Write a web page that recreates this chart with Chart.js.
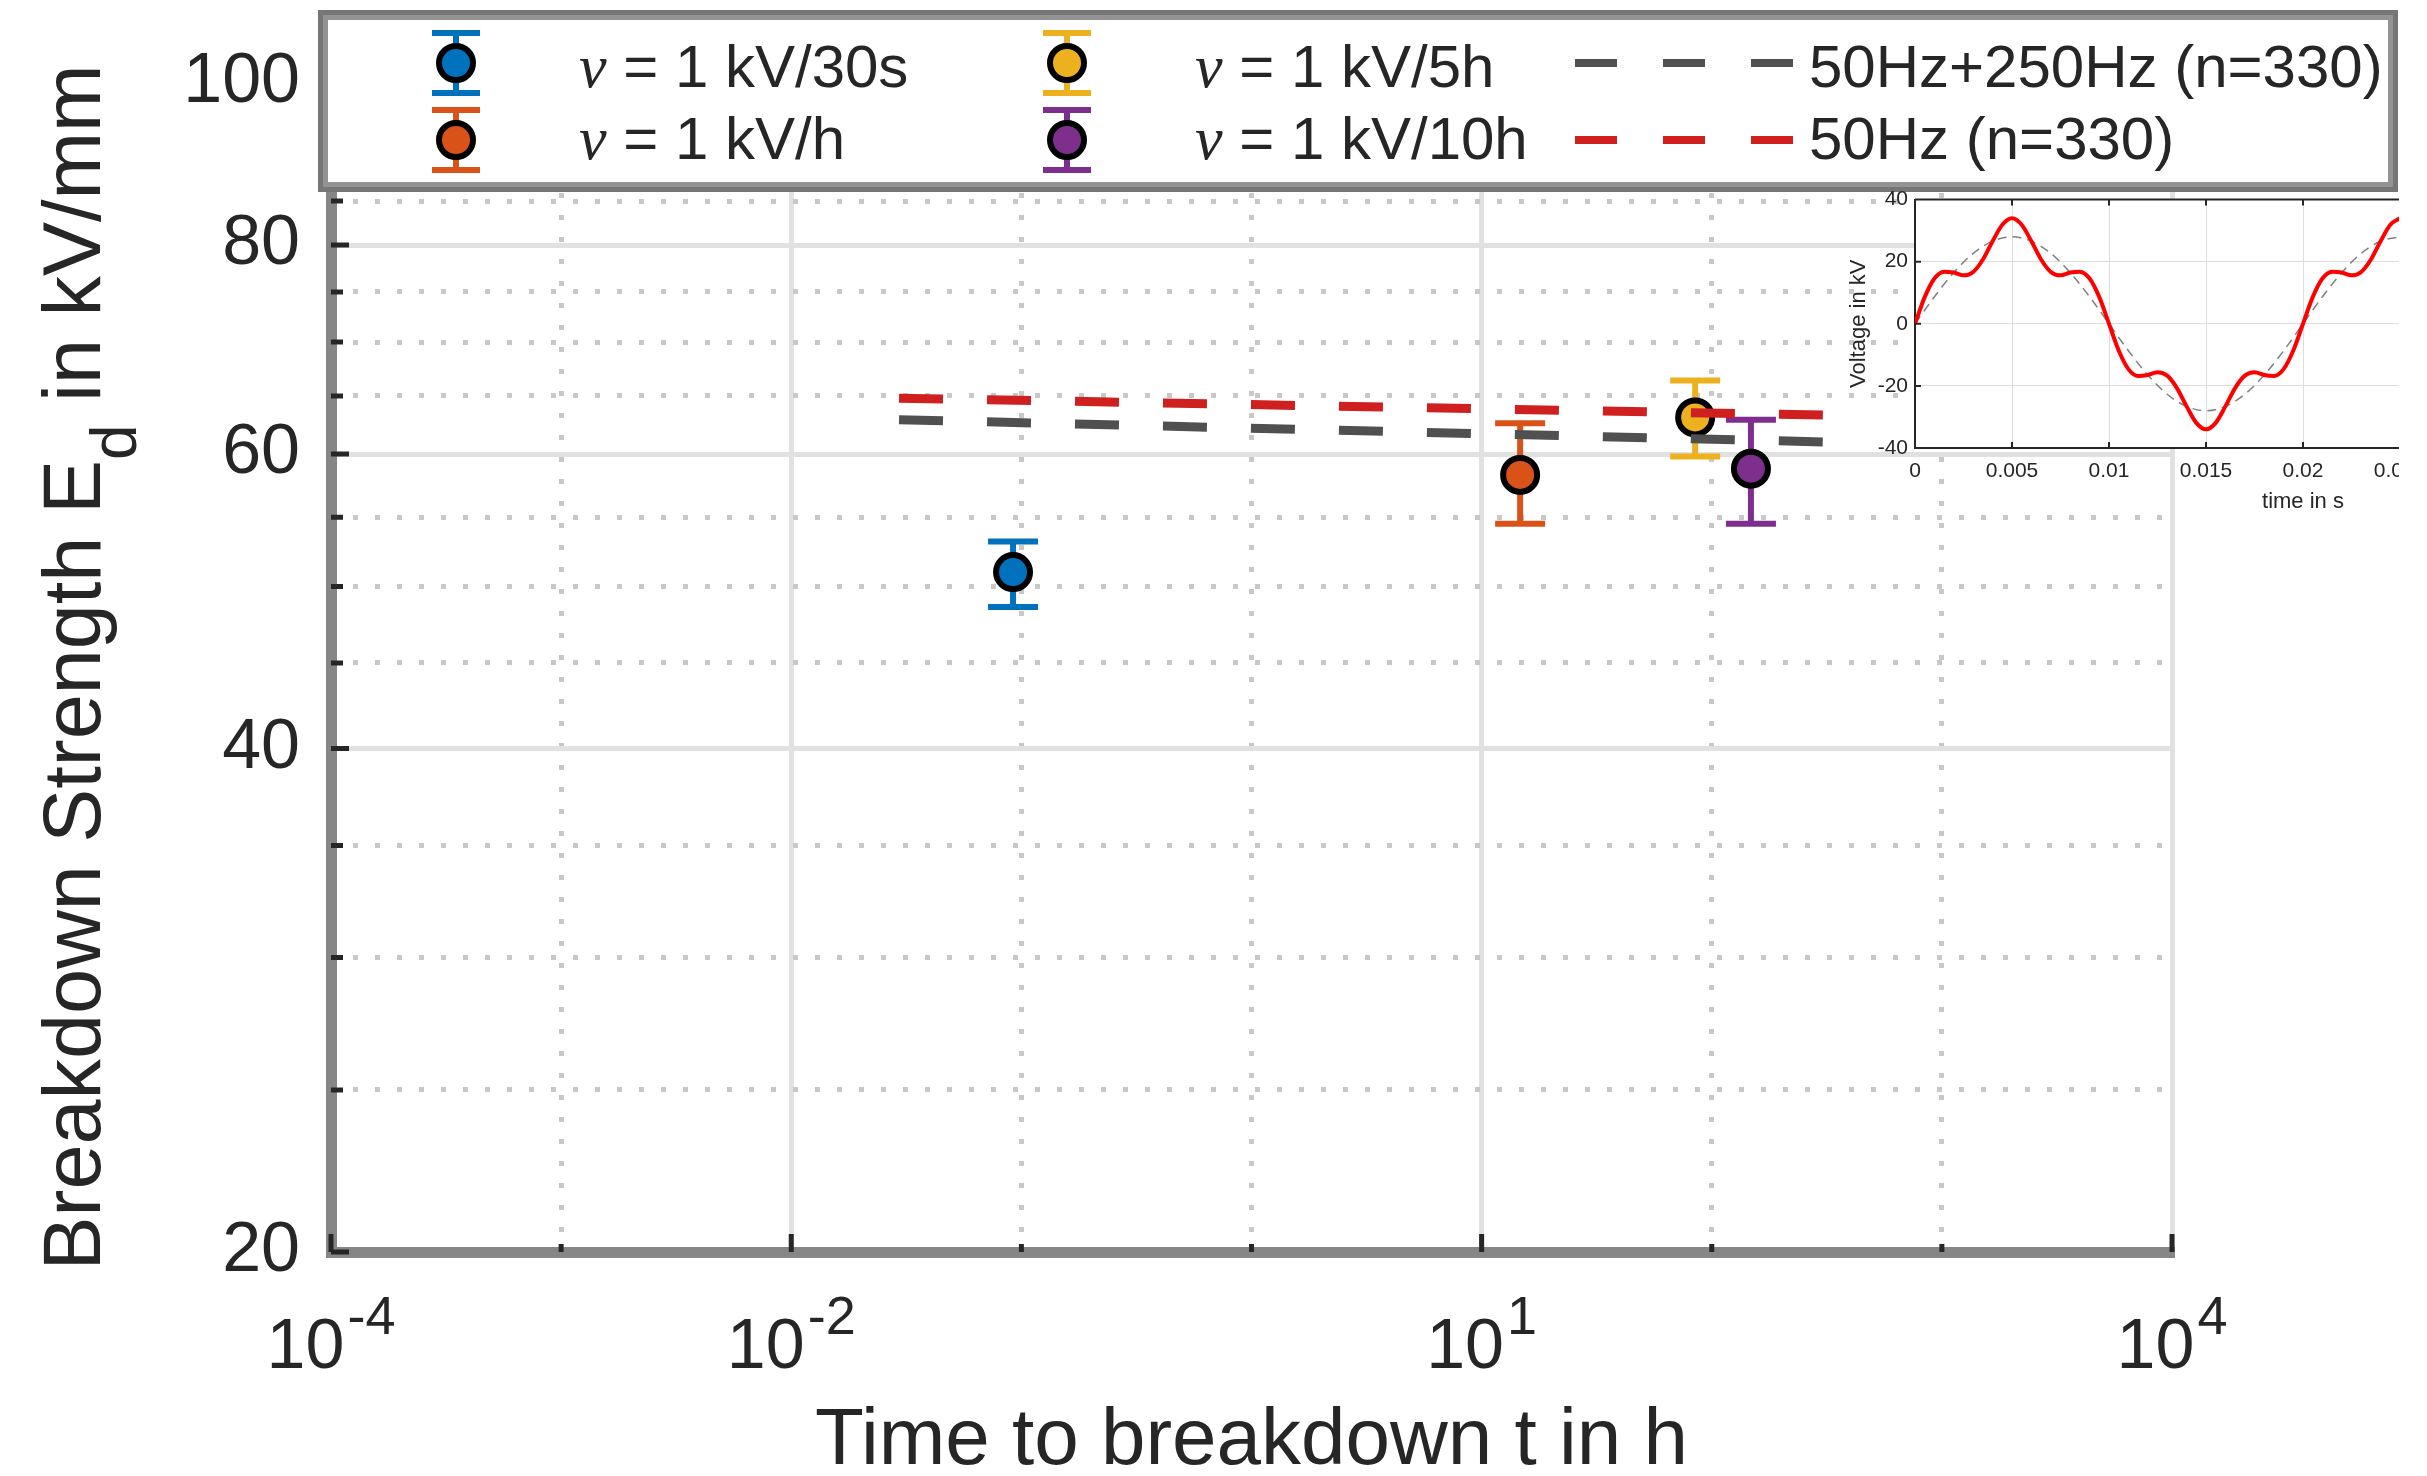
<!DOCTYPE html>
<html>
<head>
<meta charset="utf-8">
<script src="https://cdn.jsdelivr.net/npm/chart.js@4"></script>
<style>
  html, body { margin: 0; padding: 0; background: #fff; overflow: hidden; }
  #wrap { position: relative; width: 2427px; height: 1476px; }
  #main { position: absolute; left: 0; top: 0; }
  #insetBox { position: absolute; left: 1835px; top: 180px; width: 564px; height: 345px; overflow: hidden; }
  #inset { position: absolute; left: 0; top: 0; }
</style>
</head>
<body>
<div id="wrap">
  <canvas id="main" width="2427" height="1476"></canvas>
  <div id="insetBox"><canvas id="inset" width="900" height="345"></canvas></div>
</div>
<script>
// measured series (ramp rates)
const seriesLabels = ['ν = 1 kV/30s', 'ν = 1 kV/h', 'ν = 1 kV/5h', 'ν = 1 kV/10h'];
const seriesColors = ['#0072BD', '#D95319', '#EDB120', '#7E2F8E'];
const breakdownTime = [0.092, 14.7, 84.7, 148];
const breakdownStrength = [51.0, 58.3, 63.1, 58.8];
const strengthLow = [48.6, 54.5, 59.8, 54.5];
const strengthHigh = [53.2, 62.6, 66.4, 62.9];

// fitted lifetime lines
const fitLabels = ['50Hz+250Hz (n=330)', '50Hz (n=330)'];
const fitColors = ['#505050', '#D01F1F'];
const fitTime = [0.0294, 320];
const fit50250 = [62.9, 61.0];
const fit50 = [64.8, 63.3];

// axis ticks
const xMajorTicks = [1e-4, 1e-2, 1e1, 1e4];
const xTickExponents = ['-4', '-2', '1', '4'];
const xMinorTicks = [1e-3, 1e-1, 1, 1e2, 1e3];
const yMajorTicks = [20, 40, 60, 80, 100];
const yTickLabels = ['20', '40', '60', '80', '100'];
const yMinorTicks = [25, 30, 35, 45, 50, 55, 65, 70, 75, 85, 90, 95];

// inset waveform
const insetTime = [0, 0.0005, 0.001, 0.0015, 0.002, 0.0025, 0.003, 0.0035, 0.004, 0.0045, 0.005,
  0.0055, 0.006, 0.0065, 0.007, 0.0075, 0.008, 0.0085, 0.009, 0.0095, 0.01,
  0.0105, 0.011, 0.0115, 0.012, 0.0125, 0.013, 0.0135, 0.014, 0.0145, 0.015,
  0.0155, 0.016, 0.0165, 0.017, 0.0175, 0.018, 0.0185, 0.019, 0.0195, 0.02,
  0.0205, 0.021, 0.0215, 0.022, 0.0225, 0.023, 0.0235, 0.024, 0.0245, 0.025];
const insetVoltage = [0, 8.6, 14.6, 16.8, 16.5, 15.6, 16.7, 20.7, 26.6, 31.9, 34,
  31.9, 26.6, 20.7, 16.7, 15.6, 16.5, 16.8, 14.6, 8.6, 0,
  -8.6, -14.6, -16.8, -16.5, -15.6, -16.7, -20.7, -26.6, -31.9, -34,
  -31.9, -26.6, -20.7, -16.7, -15.6, -16.5, -16.8, -14.6, -8.6, 0,
  8.6, 14.6, 16.8, 16.5, 15.6, 16.7, 20.7, 26.6, 31.9, 34];
const insetFundTime = [0, 0.001, 0.002, 0.003, 0.004, 0.005, 0.006, 0.007, 0.008, 0.009, 0.01,
  0.011, 0.012, 0.013, 0.014, 0.015, 0.016, 0.017, 0.018, 0.019, 0.02,
  0.021, 0.022, 0.023, 0.024, 0.025];
const insetFundVoltage = [0, 8.7, 16.5, 22.7, 26.6, 28, 26.6, 22.7, 16.5, 8.7, 0,
  -8.7, -16.5, -22.7, -26.6, -28, -26.6, -22.7, -16.5, -8.7, 0,
  8.7, 16.5, 22.7, 26.6, 28];
const insetXTicks = [0, 0.005, 0.01, 0.015, 0.02, 0.025, 0.03, 0.035, 0.04];
const insetXTickLabels = ['0', '0.005', '0.01', '0.015', '0.02', '0.025', '0.03', '0.035', '0.04'];
const insetYTicks = [-40, -20, 0, 20, 40];

const FONT = "'Liberation Sans', Arial, Helvetica, sans-serif";
const INK = '#262626';
Chart.defaults.font.family = FONT;
Chart.defaults.color = INK;

const datasets = [];
[fit50250, fit50].forEach((vals, k) => {
  datasets.push({
    label: fitLabels[k],
    data: fitTime.map((t, j) => ({ x: t, y: vals[j] })),
    showLine: true,
    borderColor: fitColors[k],
    borderWidth: 9,
    borderDash: [44, 44],
    pointRadius: 0,
    order: 0
  });
});
seriesLabels.forEach((lab, i) => {
  datasets.push({
    label: lab + ' range',
    data: [{ x: breakdownTime[i], y: strengthLow[i] }, { x: breakdownTime[i], y: strengthHigh[i] }],
    showLine: true,
    borderColor: seriesColors[i],
    borderWidth: 6,
    pointStyle: 'line',
    pointRadius: 25,
    pointBorderWidth: 6,
    pointBorderColor: seriesColors[i],
    order: 2
  });
  datasets.push({
    label: lab,
    data: [{ x: breakdownTime[i], y: breakdownStrength[i] }],
    pointRadius: 17,
    pointBorderWidth: 6,
    pointBorderColor: '#000',
    pointBackgroundColor: seriesColors[i],
    order: 1
  });
});

function setTicks(vals) {
  return scale => { scale.ticks = vals.map(v => ({ value: v })); };
}

// y title with subscript, x tick labels with exponents, inward tick marks
const axisDecor = {
  id: 'axisDecor',
  afterDraw(chart) {
    const ctx = chart.ctx;
    const area = chart.chartArea;
    const xs = chart.scales.x, ys = chart.scales.y;
    ctx.save();
    ctx.fillStyle = INK;
    ctx.strokeStyle = INK;
    ctx.lineWidth = 5;
    ctx.beginPath();
    yMajorTicks.forEach(v => { const p = ys.getPixelForValue(v); ctx.moveTo(area.left, p); ctx.lineTo(area.left + 18, p); });
    yMinorTicks.forEach(v => { const p = ys.getPixelForValue(v); ctx.moveTo(area.left, p); ctx.lineTo(area.left + 12, p); });
    xMajorTicks.forEach(v => { const p = xs.getPixelForValue(v); ctx.moveTo(p, area.bottom); ctx.lineTo(p, area.bottom - 18); });
    xMinorTicks.forEach(v => { const p = xs.getPixelForValue(v); ctx.moveTo(p, area.bottom); ctx.lineTo(p, area.bottom - 8); });
    ctx.stroke();

    // x tick labels 10^n
    ctx.textBaseline = 'alphabetic';
    ctx.textAlign = 'left';
    xMajorTicks.forEach((v, i) => {
      const p = xs.getPixelForValue(v);
      ctx.font = '70px ' + FONT;
      const wb = ctx.measureText('10').width;
      ctx.font = '54px ' + FONT;
      const we = ctx.measureText(xTickExponents[i]).width;
      const x0 = p - (wb + we + 3) / 2;
      ctx.font = '70px ' + FONT;
      ctx.fillText('10', x0, area.bottom + 116);
      ctx.font = '54px ' + FONT;
      ctx.fillText(xTickExponents[i], x0 + wb + 3, area.bottom + 82);
    });

    // y title: Breakdown Strength E_d in kV/mm
    const partA = 'Breakdown Strength E', partSub = 'd', partB = ' in kV/mm';
    ctx.font = '81px ' + FONT;
    const wa = ctx.measureText(partA).width, wb2 = ctx.measureText(partB).width;
    ctx.font = '64px ' + FONT;
    const ws = ctx.measureText(partSub).width;
    const total = wa + ws + wb2;
    ctx.translate(100, (area.top + area.bottom) / 2);
    ctx.rotate(-Math.PI / 2);
    let x = -total / 2;
    ctx.font = '81px ' + FONT;
    ctx.fillText(partA, x, 0);
    x += wa;
    ctx.font = '64px ' + FONT;
    ctx.fillText(partSub, x, 36);
    x += ws;
    ctx.font = '81px ' + FONT;
    ctx.fillText(partB, x, 0);
    ctx.restore();
  }
};

// boxed legend across the top
const legendBox = {
  id: 'legendBox',
  afterDraw(chart) {
    const ctx = chart.ctx;
    ctx.save();
    ctx.fillStyle = '#fff';
    ctx.fillRect(318, 10, 2080, 182);
    ctx.lineWidth = 5;
    ctx.strokeStyle = '#767676';
    ctx.strokeRect(320.5, 12.5, 2075, 177);
    ctx.strokeStyle = '#939393';
    ctx.strokeRect(325.5, 17.5, 2065, 167);

    const rowMark = [63, 140];
    const rowText = [87, 159];
    const markX = [456, 456, 1067, 1067];
    const textX = [579, 579, 1195, 1195];
    const rowOf = [0, 1, 0, 1];
    seriesLabels.forEach((lab, i) => {
      const cx = markX[i], cy = rowMark[rowOf[i]];
      ctx.strokeStyle = seriesColors[i];
      ctx.lineWidth = 6;
      ctx.setLineDash([]);
      ctx.beginPath();
      ctx.moveTo(cx, cy - 30); ctx.lineTo(cx, cy + 30);
      ctx.moveTo(cx - 24, cy - 30); ctx.lineTo(cx + 24, cy - 30);
      ctx.moveTo(cx - 24, cy + 30); ctx.lineTo(cx + 24, cy + 30);
      ctx.stroke();
      ctx.beginPath();
      ctx.arc(cx, cy, 17, 0, Math.PI * 2);
      ctx.fillStyle = seriesColors[i];
      ctx.fill();
      ctx.strokeStyle = '#000';
      ctx.stroke();
      ctx.fillStyle = INK;
      ctx.textBaseline = 'alphabetic';
      ctx.textAlign = 'left';
      ctx.font = "italic 62px 'Liberation Serif', serif";
      ctx.fillText(lab[0], textX[i], rowText[rowOf[i]]);
      const wn = ctx.measureText(lab[0]).width;
      ctx.font = '60px ' + FONT;
      ctx.fillText(lab.slice(1), textX[i] + wn, rowText[rowOf[i]]);
    });
    fitLabels.forEach((lab, k) => {
      const cy = rowMark[k];
      ctx.strokeStyle = fitColors[k];
      ctx.lineWidth = 8;
      ctx.setLineDash([42, 46]);
      ctx.beginPath();
      ctx.moveTo(1575, cy); ctx.lineTo(1793, cy);
      ctx.stroke();
      ctx.setLineDash([]);
      ctx.fillStyle = INK;
      ctx.font = '60px ' + FONT;
      ctx.fillText(lab, 1809, rowText[k]);
    });
    ctx.restore();
  }
};

new Chart(document.getElementById('main'), {
  type: 'scatter',
  data: { datasets: datasets },
  options: {
    responsive: false,
    animation: false,
    events: [],
    devicePixelRatio: 1,
    layout: { padding: { top: 83, right: 255, left: 0, bottom: 0 } },
    plugins: { legend: { display: false }, tooltip: { enabled: false } },
    scales: {
      x: {
        type: 'logarithmic', position: 'bottom', min: 1e-4, max: 1e4,
        afterBuildTicks: setTicks(xMajorTicks),
        afterFit: s => { s.height = 224; },
        ticks: { display: false },
        grid: { color: '#e1e1e1', lineWidth: 5, drawTicks: false },
        border: { display: true, color: '#868686', width: 11 },
        title: {
          display: true, text: 'Time to breakdown t in h', color: INK,
          font: { family: FONT, size: 80, lineHeight: 0.85 }, padding: { top: 0, bottom: 0 }
        }
      },
      xMinor: {
        type: 'logarithmic', position: 'bottom', axis: 'x', min: 1e-4, max: 1e4,
        afterBuildTicks: setTicks(xMinorTicks),
        afterFit: s => { s.height = 0; },
        ticks: { display: false },
        grid: { color: '#c8c8c8', lineWidth: 5, drawTicks: false },
        border: { display: false, dash: [5, 17] }
      },
      y: {
        type: 'logarithmic', position: 'left', min: 20, max: 100,
        afterBuildTicks: setTicks(yMajorTicks),
        afterFit: s => { s.width = 331; },
        ticks: { padding: 31, color: INK, font: { size: 70 }, autoSkip: false, callback: (v, i) => yTickLabels[i] },
        grid: { color: '#e1e1e1', lineWidth: 5, drawTicks: false },
        border: { display: true, color: '#868686', width: 11 }
      },
      yMinor: {
        type: 'logarithmic', position: 'left', axis: 'y', min: 20, max: 100,
        afterBuildTicks: setTicks(yMinorTicks),
        afterFit: s => { s.width = 0; },
        ticks: { display: false },
        grid: { color: '#c8c8c8', lineWidth: 5, drawTicks: false },
        border: { display: false, dash: [5, 17] }
      }
    }
  },
  plugins: [axisDecor, legendBox]
});

// inset: voltage waveform
const insetFrame = {
  id: 'insetFrame',
  beforeDraw(chart) {
    const a = chart.chartArea, ctx = chart.ctx;
    ctx.save();
    ctx.fillStyle = '#fff';
    ctx.fillRect(a.left, a.top, a.right - a.left, a.bottom - a.top);
    ctx.restore();
  },
  afterDraw(chart) {
    const a = chart.chartArea, ctx = chart.ctx;
    const xs = chart.scales.x, ys = chart.scales.y;
    ctx.save();
    ctx.strokeStyle = INK;
    ctx.lineWidth = 2;
    ctx.beginPath();
    ctx.moveTo(a.left, a.top); ctx.lineTo(a.right, a.top);
    insetXTicks.forEach(v => {
      const p = xs.getPixelForValue(v);
      ctx.moveTo(p, a.top); ctx.lineTo(p, a.top + 6);
      ctx.moveTo(p, a.bottom); ctx.lineTo(p, a.bottom - 6);
    });
    insetYTicks.forEach(v => {
      const p = ys.getPixelForValue(v);
      ctx.moveTo(a.left, p); ctx.lineTo(a.left + 6, p);
    });
    ctx.stroke();
    ctx.restore();
  }
};

new Chart(document.getElementById('inset'), {
  type: 'scatter',
  data: {
    datasets: [
      {
        label: '50Hz+250Hz',
        data: insetTime.map((t, i) => ({ x: t, y: insetVoltage[i] })),
        showLine: true, borderColor: '#ff0000', borderWidth: 4, pointRadius: 0,
        cubicInterpolationMode: 'monotone', order: 0
      },
      {
        label: '50Hz',
        data: insetFundTime.map((t, i) => ({ x: t, y: insetFundVoltage[i] })),
        showLine: true, borderColor: '#808080', borderWidth: 1.5, borderDash: [9, 6], pointRadius: 0,
        cubicInterpolationMode: 'monotone', order: 1
      }
    ]
  },
  options: {
    responsive: false,
    animation: false,
    events: [],
    devicePixelRatio: 1,
    layout: { padding: { top: 14, right: 44, left: 0, bottom: 0 } },
    plugins: { legend: { display: false }, tooltip: { enabled: false } },
    scales: {
      x: {
        type: 'linear', min: 0, max: 0.04,
        afterBuildTicks: setTicks(insetXTicks),
        afterFit: s => { s.height = 77; },
        ticks: { padding: 11, color: INK, font: { size: 21 }, autoSkip: false, maxRotation: 0, callback: (v, i) => insetXTickLabels[i] },
        grid: { color: '#dedede', lineWidth: 1, drawTicks: false },
        border: { color: INK, width: 2 },
        title: { display: true, text: 'time in s', color: INK, font: { size: 22 }, padding: { top: 0, bottom: 10 } }
      },
      y: {
        type: 'linear', min: -40, max: 40,
        afterBuildTicks: setTicks(insetYTicks),
        afterFit: s => { s.width = 80; },
        ticks: { padding: 7, color: INK, font: { size: 21 }, autoSkip: false },
        grid: { color: '#dedede', lineWidth: 1, drawTicks: false },
        border: { color: INK, width: 2 },
        title: { display: true, text: 'Voltage in kV', color: INK, font: { size: 22 }, padding: { top: 11, bottom: 0 } }
      }
    }
  },
  plugins: [insetFrame]
});
</script>
</body>
</html>
